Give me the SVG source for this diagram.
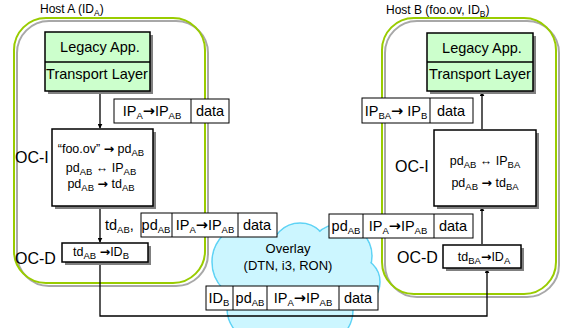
<svg xmlns="http://www.w3.org/2000/svg" width="561" height="328" viewBox="0 0 561 328">
<style>
text{font-family:"Liberation Sans",Arial,sans-serif;fill:#000}
.h{font-size:12px}
.t{font-size:14.5px}
.o{font-size:13px}
.m{font-size:12.5px}
.l{font-size:16px}
.s{font-size:9.5px}
.hs{font-size:8.5px}
.a{font-family:"DejaVu Sans",sans-serif;font-weight:bold}
.host{fill:none;stroke:#99cc00;stroke-width:2}
.hsh{fill:none;stroke:#a8a8a8;stroke-width:2}
.box{fill:#fff;stroke:#000;stroke-width:1.5}
.gbox{fill:#ccffcc;stroke:#000;stroke-width:1.5}
.sh{fill:#808080}
.pk{fill:#fff;stroke:#000;stroke-width:1}
.dv{stroke:#000;stroke-width:1}
.ln{fill:none;stroke:#000;stroke-width:1.3}
.cs{fill:#ccf6ff;stroke:#5fd3f5;stroke-width:1.5}
.cf{fill:#ccf6ff}
</style>
<defs>
<marker id="ah" viewBox="0 0 8 8" refX="7" refY="4" markerWidth="5" markerHeight="5" orient="auto" markerUnits="userSpaceOnUse"><path d="M0,0 L8,4 L0,8 z" fill="#000"/></marker>
</defs>

<g id="hostA">
<rect class="hsh" x="17" y="21" width="191" height="265" rx="32"/>
<rect class="host" x="14" y="18" width="191" height="265" rx="32"/>
<text class="h" x="40" y="13">Host A (ID<tspan class="hs" dy="3">A</tspan><tspan dy="-3">)</tspan></text>
</g>
<g id="hostB">
<rect class="hsh" x="385" y="21" width="174" height="276" rx="32"/>
<rect class="host" x="382" y="18" width="174" height="276" rx="32"/>
<text class="h" x="386" y="14">Host B (foo.ov, ID<tspan class="hs" dy="3">B</tspan><tspan dy="-3">)</tspan></text>
</g>

<g id="overlay">
<circle class="cs" cx="250" cy="262" r="38"/>
<circle class="cs" cx="300" cy="252" r="29"/>
<circle class="cs" cx="340" cy="256" r="32"/>
<circle class="cs" cx="355" cy="282" r="25"/>
<circle class="cs" cx="262" cy="308" r="35"/>
<circle class="cs" cx="318" cy="310" r="35"/>
<circle class="cf" cx="250" cy="262" r="37"/>
<circle class="cf" cx="300" cy="252" r="28"/>
<circle class="cf" cx="340" cy="256" r="31"/>
<circle class="cf" cx="355" cy="282" r="24"/>
<circle class="cf" cx="262" cy="308" r="34"/>
<circle class="cf" cx="318" cy="310" r="34"/>
<circle class="cf" cx="295" cy="285" r="42"/>
<text class="o" x="288" y="253" text-anchor="middle">Overlay</text>
<text class="o" x="288" y="270" text-anchor="middle">(DTN, i3, RON)</text>
</g>

<g id="connectors">
<path class="ln" d="M100,92 V128" marker-end="url(#ah)"/>
<path class="ln" d="M100,207 V242" marker-end="url(#ah)"/>
<path class="ln" d="M100,263 V316 H487 V269" marker-end="url(#ah)"/>
<path class="ln" d="M482,244 V207" marker-end="url(#ah)"/>
<path class="ln" d="M482,129 V92" marker-end="url(#ah)"/>
<text class="t" x="105" y="230">td<tspan class="s" dy="3">AB</tspan><tspan dy="-3">,</tspan></text>
</g>

<g id="legacyA">
<rect class="sh" x="48" y="35" width="105" height="59"/>
<rect class="gbox" x="45" y="32" width="105" height="59"/>
<line class="ln" x1="45" y1="62" x2="150" y2="62"/>
<text class="t" x="100" y="52" text-anchor="middle">Legacy App.</text>
<text class="t" x="97" y="79" text-anchor="middle">Transport Layer</text>
</g>
<g id="legacyB">
<rect class="sh" x="430" y="36" width="106" height="58"/>
<rect class="gbox" x="427" y="33" width="106" height="58"/>
<line class="ln" x1="427" y1="62" x2="533" y2="62"/>
<text class="t" x="482" y="53" text-anchor="middle">Legacy App.</text>
<text class="t" x="480" y="79" text-anchor="middle">Transport Layer</text>
</g>

<g id="ociA">
<rect class="sh" x="55" y="132" width="101" height="77"/>
<rect class="box" x="52" y="129" width="101" height="77"/>
<text class="m" x="101" y="153" text-anchor="middle">“foo.ov” <tspan class="a">→</tspan> pd<tspan class="s" dy="3">AB</tspan></text>
<text class="m" x="101" y="172" text-anchor="middle">pd<tspan class="s" dy="3">AB</tspan><tspan dy="-3"> ↔ IP</tspan><tspan class="s" dy="3">AB</tspan></text>
<text class="m" x="101" y="188" text-anchor="middle">pd<tspan class="s" dy="3">AB</tspan><tspan dy="-3"> </tspan><tspan class="a">→</tspan> td<tspan class="s" dy="3">AB</tspan></text>
<text class="l" x="15" y="163">OC-I</text>
</g>
<g id="ociB">
<rect class="sh" x="437" y="133" width="102" height="76"/>
<rect class="box" x="434" y="130" width="102" height="76"/>
<text class="m" x="485" y="165" text-anchor="middle">pd<tspan class="s" dy="3">AB</tspan><tspan dy="-3"> ↔ IP</tspan><tspan class="s" dy="3">BA</tspan></text>
<text class="m" x="485" y="187" text-anchor="middle">pd<tspan class="s" dy="3">AB</tspan><tspan dy="-3"> </tspan><tspan class="a">→</tspan> td<tspan class="s" dy="3">BA</tspan></text>
<text class="l" x="395" y="172">OC-I</text>
</g>
<g id="ocdA">
<rect class="sh" x="65" y="246" width="86" height="19"/>
<rect class="box" x="62" y="243" width="86" height="19"/>
<text class="m" x="101" y="256" text-anchor="middle">td<tspan class="s" dy="3">AB</tspan><tspan dy="-3"> </tspan><tspan class="a">→</tspan>ID<tspan class="s" dy="3">B</tspan></text>
<text class="l" x="15" y="264">OC-D</text>
</g>
<g id="ocdB">
<rect class="sh" x="446" y="248" width="78" height="23"/>
<rect class="box" x="443" y="245" width="78" height="23"/>
<text class="m" x="484" y="261" text-anchor="middle">td<tspan class="s" dy="3">BA</tspan><tspan class="a" dy="-3">→</tspan>ID<tspan class="s" dy="3">A</tspan></text>
<text class="l" x="397" y="263">OC-D</text>
</g>

<g id="pkt1">
<rect class="pk" x="114" y="99" width="115" height="24"/>
<line class="dv" x1="191" y1="99" x2="191" y2="123"/>
<text class="t" x="152" y="116" text-anchor="middle">IP<tspan class="s" dy="3">A</tspan><tspan class="a" dy="-3">→</tspan>IP<tspan class="s" dy="3">AB</tspan></text>
<text class="t" x="210" y="116" text-anchor="middle">data</text>
</g>
<g id="pkt2">
<rect class="pk" x="362" y="98" width="111" height="25"/>
<line class="dv" x1="430" y1="98" x2="430" y2="123"/>
<text class="t" x="396" y="116" text-anchor="middle">IP<tspan class="s" dy="3">BA</tspan><tspan class="a" dy="-3">→</tspan> IP<tspan class="s" dy="3">B</tspan></text>
<text class="t" x="451" y="116" text-anchor="middle">data</text>
</g>
<g id="pkt3">
<rect class="pk" x="141" y="213" width="136" height="24"/>
<line class="dv" x1="172" y1="213" x2="172" y2="237"/>
<line class="dv" x1="238" y1="213" x2="238" y2="237"/>
<text class="t" x="156" y="230" text-anchor="middle">pd<tspan class="s" dy="3">AB</tspan></text>
<text class="t" x="205" y="230" text-anchor="middle">IP<tspan class="s" dy="3">A</tspan><tspan class="a" dy="-3">→</tspan>IP<tspan class="s" dy="3">AB</tspan></text>
<text class="t" x="257" y="230" text-anchor="middle">data</text>
</g>
<g id="pkt4">
<rect class="pk" x="329" y="214" width="144" height="24"/>
<line class="dv" x1="363" y1="214" x2="363" y2="238"/>
<line class="dv" x1="434" y1="214" x2="434" y2="238"/>
<text class="t" x="346" y="231" text-anchor="middle">pd<tspan class="s" dy="3">AB</tspan></text>
<text class="t" x="398" y="231" text-anchor="middle">IP<tspan class="s" dy="3">A</tspan><tspan class="a" dy="-3">→</tspan>IP<tspan class="s" dy="3">AB</tspan></text>
<text class="t" x="453" y="231" text-anchor="middle">data</text>
</g>
<g id="pkt5">
<rect class="pk" x="206" y="286" width="172" height="24"/>
<line class="dv" x1="233" y1="286" x2="233" y2="310"/>
<line class="dv" x1="267" y1="286" x2="267" y2="310"/>
<line class="dv" x1="339" y1="286" x2="339" y2="310"/>
<text class="t" x="219" y="303" text-anchor="middle">ID<tspan class="s" dy="3">B</tspan></text>
<text class="t" x="250" y="303" text-anchor="middle">pd<tspan class="s" dy="3">AB</tspan></text>
<text class="t" x="303" y="303" text-anchor="middle">IP<tspan class="s" dy="3">A</tspan><tspan class="a" dy="-3">→</tspan>IP<tspan class="s" dy="3">AB</tspan></text>
<text class="t" x="358" y="303" text-anchor="middle">data</text>
</g>
</svg>
